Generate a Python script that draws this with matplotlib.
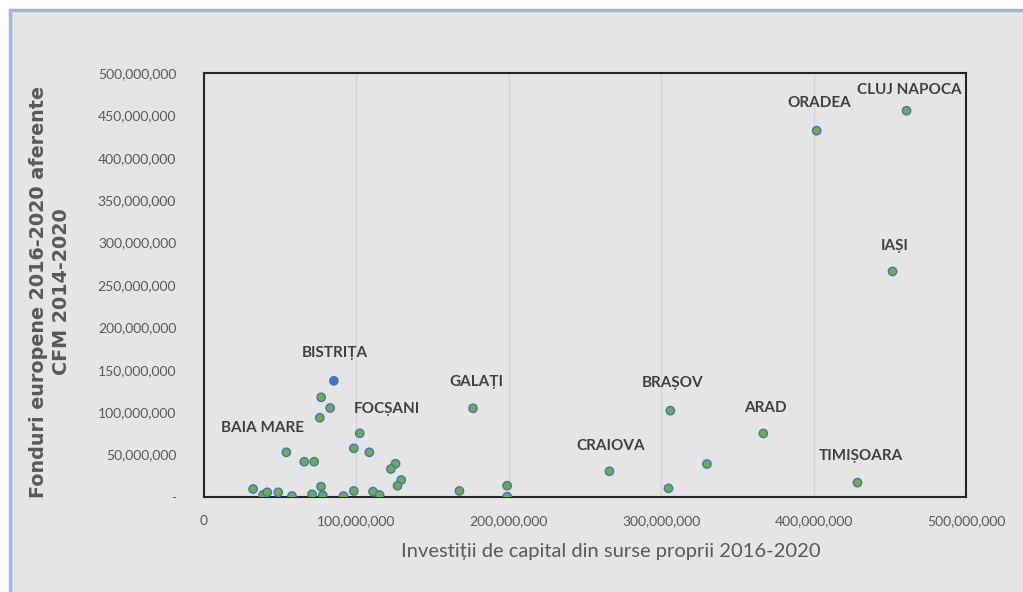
import matplotlib
matplotlib.use("Agg")
import matplotlib.pyplot as plt
from matplotlib.patches import Rectangle
from matplotlib.ticker import FuncFormatter, MultipleLocator

# investitii de capital din surse proprii 2016-2020 (lei)
invest = [461e6, 402e6, 451.8e6, 306e6, 367e6, 266e6, 428.8e6, 330e6, 304.8e6,
          85.2e6, 176.5e6, 102.2e6, 54e6,
          76.9e6, 82.8e6, 76e6, 98.3e6, 108.5e6, 65.8e6, 72.3e6, 125.7e6,
          122.6e6, 129.4e6, 127e6, 32.2e6, 38.8e6, 41.5e6, 48.7e6, 57.7e6,
          70.9e6, 76.8e6, 77.9e6, 91.5e6, 98.3e6, 110.9e6, 115.2e6, 167.6e6,
          198.9e6, 198.9e6]
# fonduri europene 2016-2020 aferente CFM 2014-2020 (lei)
fonduri = [455.5e6, 432e6, 266e6, 101.8e6, 75e6, 30.3e6, 16.9e6, 38.9e6, 10.2e6,
           137e6, 104.6e6, 75.1e6, 52.7e6,
           117.6e6, 105e6, 93.5e6, 57.4e6, 52.7e6, 41.6e6, 41.6e6, 39.3e6,
           33e6, 20e6, 13.3e6, 9.4e6, 2.4e6, 5.5e6, 5.5e6, 1.2e6,
           3.2e6, 12.2e6, 2e6, 1.2e6, 7.1e6, 6.3e6, 2.4e6, 7.1e6,
           13.3e6, 0.4e6]
orase = ["CLUJ NAPOCA", "ORADEA", "IAȘI", "BRAȘOV", "ARAD", "CRAIOVA",
         "TIMIȘOARA", "", "", "BISTRIȚA", "GALAȚI", "FOCȘANI", "BAIA MARE"]
orase += [""] * (len(invest) - len(orase))
evidentiat = "BISTRIȚA"

# label offsets in pixels (dx, dy)
offsets = {"BAIA MARE": (-24, 24), "BISTRIȚA": (1, 28), "FOCȘANI": (27, 24),
           "GALAȚI": (3, 26), "CRAIOVA": (1, 25), "BRAȘOV": (2, 28),
           "ARAD": (2, 25), "TIMIȘOARA": (3, 27), "IAȘI": (2, 25),
           "ORADEA": (3, 28), "CLUJ NAPOCA": (3, 21)}

font = ["Lato", "DejaVu Sans"]
bg = "#e5e5e5"
fig = plt.figure(figsize=(10.23, 5.92), dpi=100, facecolor="white")
fig.patches.append(Rectangle((10 / 1023, -0.1), 1.0, 1.1 - 10 / 592,
                             transform=fig.transFigure, facecolor=bg,
                             edgecolor="#9fb4d8", linewidth=2.5, zorder=-5))

ax = fig.add_axes([204 / 1023, 1 - 497 / 592, (966 - 204) / 1023, (497 - 73) / 592])
ax.set_facecolor(bg)

culori = ["#4472c4" if o == evidentiat else "#70ad47" for o in orase]
ax.scatter(invest, fonduri, s=36, c=culori, edgecolors="#4472c4",
           linewidths=1.0, zorder=3)

for x, y, o in zip(invest, fonduri, orase):
    if o:
        dx, dy = offsets[o]
        ax.annotate(o, (x, y), xytext=(dx, dy), textcoords="offset pixels",
                    ha="center", va="center", fontsize=11, fontweight="bold",
                    color="#404040", family=font)

ax.set_xlim(0, 500e6)
ax.set_ylim(0, 500e6)
ax.xaxis.set_major_locator(MultipleLocator(100e6))
ax.yaxis.set_major_locator(MultipleLocator(50e6))
ax.xaxis.set_major_formatter(FuncFormatter(lambda v, p: "{:,.0f}".format(v)))
ax.yaxis.set_major_formatter(FuncFormatter(lambda v, p: "-" if v == 0 else "{:,.0f}".format(v)))
ax.grid(axis="x", color="#d4d4d4", linewidth=1)
ax.set_axisbelow(True)
ax.tick_params(length=0, labelsize=10, labelcolor="#595959")
ax.tick_params(axis="y", pad=20)
ax.tick_params(axis="x", pad=13)
for lbl in ax.get_xticklabels() + ax.get_yticklabels():
    lbl.set_family(font)
for s in ax.spines.values():
    s.set_color("#262626")
    s.set_linewidth(1.5)

fig.text(611 / 1023, 1 - 552 / 592, "Investiții de capital din surse proprii 2016-2020",
         ha="center", va="center", fontsize=14.5, color="#595959", family=font)
fig.text(50 / 1023, 1 - 292 / 592, "Fonduri europene 2016-2020 aferente\nCFM 2014-2020",
         ha="center", va="center", rotation=90, fontsize=13.8, fontweight="bold",
         color="#595959", linespacing=1.3)

fig.savefig("out.png", dpi=100, facecolor=fig.get_facecolor())
